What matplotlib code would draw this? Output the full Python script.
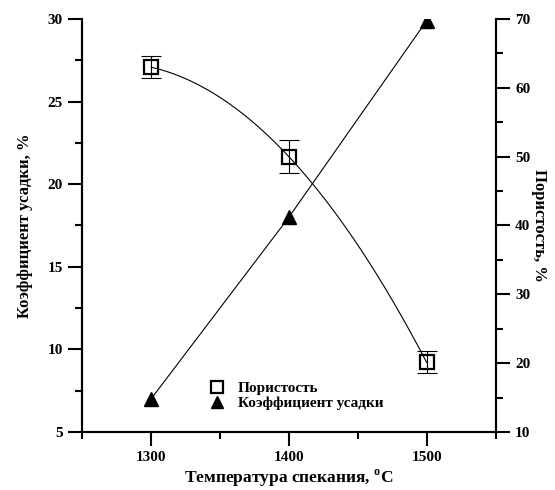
import matplotlib.pyplot as plt
import numpy as np

temps = [1300, 1400, 1500]
shrinkage = [7.0, 18.0, 29.9]
porosity = [63.0, 50.0, 20.1]
porosity_err = [1.6, 2.4, 1.6]

plt.rcParams['font.family'] = ['Liberation Serif', 'DejaVu Serif']
plt.rcParams['font.weight'] = 'bold'
plt.rcParams['mathtext.fontset'] = 'custom'
plt.rcParams['mathtext.rm'] = 'Liberation Serif'
plt.rcParams['mathtext.bf'] = 'Liberation Serif:bold'

fig = plt.figure(figsize=(5.55, 4.9), dpi=100)
ax = fig.add_axes([0.148, 0.1184, 0.745, 0.8428])
ax2 = ax.twinx()

# shrinkage: straight segments, filled triangles (left axis)
ax.plot(temps, shrinkage, color='black', lw=0.8)
tri, = ax.plot(temps, shrinkage, '^', color='black', ms=10.5,
               label='Коэффициент усадки', zorder=5)

# porosity: smooth curve through points, open squares with error bars (right axis)
coef = np.polyfit(temps, porosity, 2)
xs = np.linspace(temps[0], temps[-1], 200)
ax2.plot(xs, np.polyval(coef, xs), color='black', lw=0.8)
ax2.errorbar(temps, porosity, yerr=porosity_err, fmt='none', ecolor='black',
             elinewidth=0.8, capsize=7, capthick=0.8)
sq, = ax2.plot(temps, porosity, 's', mfc='none', mec='black', mew=1.6, ms=10,
               label='Пористость', zorder=5)

ax.set_xlim(1250, 1550)
ax.set_ylim(5, 30)
ax2.set_ylim(10, 70)
ax.set_xticks([1300, 1400, 1500])
ax.set_xticks([1250, 1350, 1450, 1550], minor=True)
ax.set_yticks([5, 10, 15, 20, 25, 30])
ax.set_yticks(np.arange(7.5, 30, 5), minor=True)
ax2.set_yticks([10, 20, 30, 40, 50, 60, 70])
ax2.set_yticks(np.arange(15, 70, 10), minor=True)

for a in (ax, ax2):
    a.spines['top'].set_visible(False)
    for s in a.spines.values():
        s.set_linewidth(1.5)
    a.tick_params(which='major', direction='out', length=10, width=1.5,
                  labelsize=11, pad=4)
    a.tick_params(which='minor', direction='out', length=5, width=1.5)

ax.set_xlabel('Температура спекания, $^\\mathbf{o}$C', fontsize=12.5,
              fontweight='bold', labelpad=2)
ax.set_ylabel('Коэффициент усадки, %', fontsize=12, fontweight='bold', labelpad=10)
ax2.set_ylabel('Пористость, %', fontsize=12, fontweight='bold',
               rotation=270, labelpad=12)

fig.legend(handles=[sq, tri], loc='center left',
           bbox_to_anchor=(209 / 555, 1 - 396 / 490), bbox_transform=fig.transFigure,
           frameon=False, borderpad=0, borderaxespad=0, handlelength=1.0,
           handletextpad=0.9, labelspacing=0.1, markerscale=0.85,
           prop={'size': 11, 'weight': 'bold'})

fig.savefig('out.png', dpi=100)
